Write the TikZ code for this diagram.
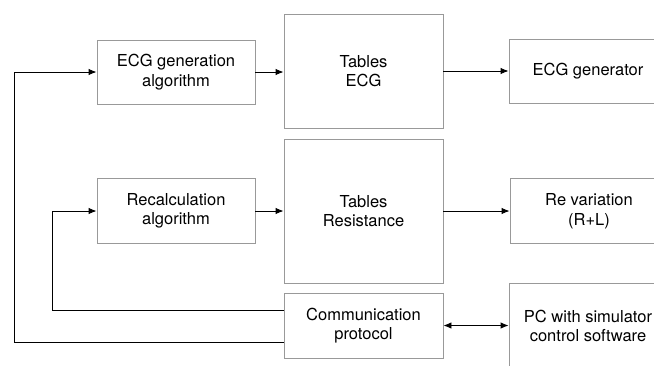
\documentclass[tikz,border=0pt]{standalone}
\usepackage{fontspec}
\setmainfont{TeX Gyre Heros}
\usetikzlibrary{arrows.meta}
\tikzset{block/.style={draw=black!40, line width=0.9pt, minimum width=158pt, align=center, inner sep=2pt, font=\fontsize{16.5}{19.5}\selectfont},
  link/.style={black, line width=0.9pt, -{Latex[length=8pt,width=6.5pt]}}}

\begin{document}
\begin{tikzpicture}[x=1pt,y=-1pt]
  \useasboundingbox (0,0) rectangle (654,365);
  \clip (0,0) rectangle (654,365);
  \node[block, minimum height=64pt] (ecgalg) at (176,72) {ECG generation\\algorithm};
  \node[block, minimum height=114pt, minimum width=159pt] (tabecg) at (363.5,71) {Tables\\ECG};
  \node[block, minimum height=64pt] (ecggen) at (588,71) {ECG generator};
  \node[block, minimum height=65pt] (recalc) at (176,211) {Recalculation\\algorithm};
  \node[block, minimum height=144pt, minimum width=159pt] (tabres) at (363.5,211) {Tables\\Resistance};
  \node[block, minimum height=65pt] (revar) at (589,211) {Re variation\\(R+L)};
  \node[block, minimum height=65pt, minimum width=159pt] (comm) at (363.5,325.5) {Communication\\protocol};
  \node[block, minimum height=86pt] (pc) at (588,326) {PC with simulator\\control software};

  \draw[link] (ecgalg) -- (tabecg.west |- ecgalg);
  \draw[link] (tabecg) -- (ecggen);
  \draw[link] (recalc) -- (tabres.west |- recalc);
  \draw[link] (tabres) -- (revar.west |- tabres);
  \draw[link, {Latex[length=8pt,width=6.5pt]}-{Latex[length=8pt,width=6.5pt]}] (comm) -- (pc.west |- comm);

  \draw[link] ([yshift=15.5pt]comm.west) -| ([xshift=-44pt]recalc.west) -- (recalc.west);
  \draw[link] ([yshift=-16.5pt]comm.west) -| ([xshift=-82pt]ecgalg.west) -- (ecgalg.west);
\end{tikzpicture}
\end{document}
